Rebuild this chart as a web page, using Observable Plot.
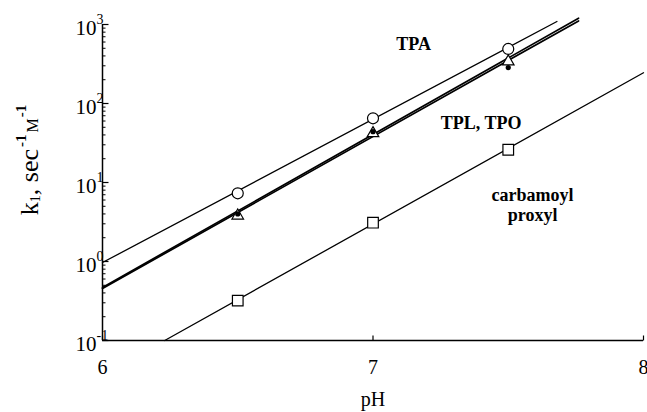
<!DOCTYPE html>
<html>
<head>
<meta charset="utf-8">
<script src="https://cdn.jsdelivr.net/npm/d3@7"></script>
<script src="https://cdn.jsdelivr.net/npm/@observablehq/plot@0.6"></script>
<style>
  html, body { margin: 0; padding: 0; background: #fff; }
  #chart { width: 647px; height: 412px; }
  #chart svg, #chart svg text { font-family: "Liberation Serif", "Times New Roman", serif !important; }
</style>
</head>
<body>
<div id="chart"></div>
<script>
// ---- data ----
const pointPH = [6.5, 7.0, 7.5];
const tpaK = [7.3, 65, 490];        // open circles
const tplK = [3.8, 42, 340];        // open triangles
const tpoK = [4.0, 44, 285];        // filled dots
const carbK = [0.32, 3.1, 26];      // open squares

const tpaLinePH = [6, 7.68];
const tpaLineK = [0.97, 1090];
const tplLinePH = [6, 7.76];
const tplLineK = [0.47, 1200];
const tpoLinePH = [6, 7.76];
const tpoLineK = [0.455, 1110];
const carbLinePH = [6.23, 8];
const carbLineK = [0.1, 245];

const xTicks = [6, 7, 8];
const yMajor = [0.1, 1, 10, 100, 1000];
const yExp = ["-1", "0", "1", "2", "3"];
const yMinor = [];
for (const d of [0.1, 1, 10, 100]) for (let m = 2; m <= 9; m++) yMinor.push(d * m);

const labelText = ["TPA", "TPL, TPO", "carbamoyl", "proxyl"];
const labelPH = [7.15, 7.40, 7.59, 7.59];
const labelK = [570, 57, 7.0, 3.9];

// ---- build tables ----
const pts = (ks) => pointPH.map((p, i) => ({pH: p, k: ks[i]}));
const seg = (xs, ks) => xs.map((p, i) => ({pH: p, k: ks[i]}));
const labels = labelText.map((t, i) => ({t, pH: labelPH[i], k: labelK[i]}));
const yLab = yMajor.map((v, i) => ({v, e: yExp[i]}));

const font = "'Liberation Serif', 'Times New Roman', serif";

// tick-shaped symbols (length = r)
const tickRight = {draw(c, size) { const l = Math.sqrt(size / Math.PI); c.moveTo(0, 0); c.lineTo(l, 0); }};
const tickUp = {draw(c, size) { const l = Math.sqrt(size / Math.PI); c.moveTo(0, 0); c.lineTo(0, -l); }};

const svg = Plot.plot({
  width: 647,
  height: 412,
  marginLeft: 102,
  marginRight: 4,
  marginTop: 24,
  marginBottom: 72,
  x: {domain: [6, 8], axis: null},
  y: {type: "log", domain: [0.1, 1000], axis: null},
  style: {fontFamily: font, background: "#fff", color: "#000", overflow: "visible"},
  marks: [
    // axis lines
    Plot.ruleX([6], {y1: 0.1, y2: 1000, stroke: "#000", strokeWidth: 1.5}),
    Plot.ruleY([0.1], {x1: 6, x2: 8, stroke: "#000", strokeWidth: 1.3}),
    // inward ticks
    Plot.dot(yMinor, {x: 6, y: d => d, symbol: tickRight, r: 3, stroke: "#000", strokeWidth: 1, fill: "none"}),
    Plot.dot(yMajor, {x: 6, y: d => d, symbol: tickRight, r: 6, stroke: "#000", strokeWidth: 1.2, fill: "none"}),
    Plot.dot(xTicks, {x: d => d, y: 0.1, symbol: tickUp, r: 5, stroke: "#000", strokeWidth: 1.2, fill: "none"}),
    // tick labels
    Plot.text(xTicks, {x: d => d, y: 0.1, text: d => String(d), dy: 27, fontSize: 20, fill: "#000"}),
    Plot.text(yLab, {x: 6, y: "v", text: () => "10", textAnchor: "end", dx: -6, dy: 4, fontSize: 21, fill: "#000"}),
    Plot.text(yLab, {x: 6, y: "v", text: "e", textAnchor: "start", dx: -6, dy: -5, fontSize: 14, fill: "#000"}),
    // fitted lines
    Plot.line(seg(tpaLinePH, tpaLineK), {x: "pH", y: "k", stroke: "#000", strokeWidth: 1.3}),
    Plot.line(seg(tplLinePH, tplLineK), {x: "pH", y: "k", stroke: "#000", strokeWidth: 1.7}),
    Plot.line(seg(tpoLinePH, tpoLineK), {x: "pH", y: "k", stroke: "#000", strokeWidth: 1.7}),
    Plot.line(seg(carbLinePH, carbLineK), {x: "pH", y: "k", stroke: "#000", strokeWidth: 1.3}),
    // points
    Plot.dot(pts(tpaK), {x: "pH", y: "k", r: 5.5, stroke: "#000", fill: "#fff", strokeWidth: 1.2}),
    Plot.dot(pts(tplK), {x: "pH", y: "k", symbol: "triangle", r: 4.3, stroke: "#000", fill: "#fff", strokeWidth: 1.2}),
    Plot.dot(pts(tpoK), {x: "pH", y: "k", r: 2.6, fill: "#000", stroke: "none"}),
    Plot.dot(pts(carbK), {x: "pH", y: "k", symbol: "square", r: 6, stroke: "#000", fill: "#fff", strokeWidth: 1.2}),
    // annotations
    Plot.text(labels, {x: "pH", y: "k", text: "t", fontSize: 18, fontWeight: "bold", fill: "#000"})
  ]
});

// axis titles
const s = d3.select(svg);
s.append("text")
  .attr("x", 373).attr("y", 406)
  .attr("text-anchor", "middle")
  .attr("font-size", 20).attr("fill", "#000")
  .text("pH");

const yt = s.append("text")
  .attr("transform", "translate(38,160) rotate(-90)")
  .attr("text-anchor", "middle")
  .attr("font-size", 26).attr("fill", "#000");
yt.append("tspan").text("k");
yt.append("tspan").attr("font-size", 14).attr("dy", 2).text("1");
yt.append("tspan").attr("dy", -2).text(", sec");
yt.append("tspan").attr("font-size", 15).attr("font-weight", "bold").attr("dy", -12).attr("dx", 2).text("-1");
yt.append("tspan").attr("font-size", 16).attr("dy", 12).attr("dx", 2).text("M");
yt.append("tspan").attr("font-size", 15).attr("font-weight", "bold").attr("dy", -12).attr("dx", 1).text("-1");

document.getElementById("chart").appendChild(svg);
</script>
</body>
</html>
